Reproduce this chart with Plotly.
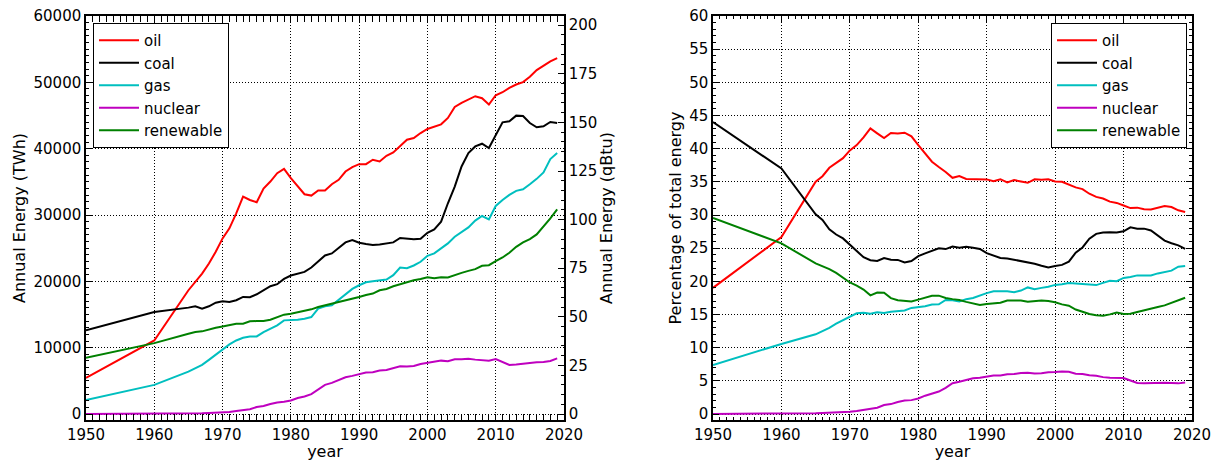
import pandas as pd
import plotly.graph_objects as go

# Primary energy consumption by source (TWh)
years = [1950, 1960] + list(range(1965, 2020))

oil = [5450, 11090, 18660, 19900, 21180, 22690, 24460, 26475, 27990, 30260,
       32780, 32270, 31920, 33990, 35050, 36310, 36960, 35550, 34290, 33130,
       32930, 33690, 33690, 34640, 35300, 36560, 37220, 37670, 37670, 38330,
       38070, 38930, 39430, 40340, 41350, 41600, 42360, 42970, 43370, 43670,
       44630, 46290, 46900, 47400, 47910, 47600, 46650, 48060, 48510, 49170,
       49670, 50030, 50830, 51840, 52550, 53150, 53660]

coal = [12610, 15380, 16040, 16240, 15890, 16240, 16790, 16990, 16890, 17150,
        17650, 17600, 18050, 18660, 19260, 19570, 20370, 20880, 21180, 21430,
        22090, 22950, 23900, 24210, 25110, 25870, 26220, 25820, 25620, 25470,
        25570, 25670, 25870, 26530, 26480, 26330, 26430, 27330, 27840, 29000,
        31770, 34290, 37320, 39330, 40340, 40750, 40090, 42110, 43970, 44130,
        44980, 44930, 43870, 43220, 43370, 44020, 43870]

gas = [2120, 4390, 6400, 6910, 7410, 8170, 8980, 9730, 10490, 11090,
       11500, 11700, 11700, 12360, 12860, 13360, 14120, 14120, 14220, 14370,
       14620, 15880, 16240, 16390, 17250, 18050, 18860, 19410, 19870, 20020,
       20170, 20270, 20930, 22090, 21990, 22390, 22950, 23850, 24210, 24960,
       25720, 26730, 27480, 28140, 29150, 29850, 29350, 31370, 32270, 33030,
       33640, 33890, 34640, 35450, 36410, 38430, 39330]

nuclear = [0, 7, 70, 90, 110, 150, 180, 220, 320, 450,
           580, 730, 1050, 1200, 1500, 1750, 1850, 2050, 2420, 2650,
           3000, 3650, 4400, 4700, 5100, 5550, 5750, 5950, 6250, 6300,
           6550, 6650, 6950, 7200, 7150, 7250, 7550, 7750, 7950, 8050,
           7950, 8250, 8250, 8350, 8200, 8150, 8050, 8300, 7900, 7400,
           7450, 7600, 7700, 7800, 7850, 8000, 8400]

renewable = [8470, 10690, 12100, 12360, 12460, 12760, 13010, 13210, 13360, 13620,
             13620, 13970, 14020, 14020, 14220, 14620, 14980, 15130, 15330, 15530,
             15780, 16140, 16390, 16590, 16840, 17150, 17300, 17650, 17950, 18160,
             18660, 18860, 19260, 19570, 19870, 20170, 20370, 20630, 20470, 20630,
             20580, 20980, 21280, 21580, 21840, 22340, 22440, 23050, 23600, 24310,
             25210, 25870, 26380, 27080, 28240, 29500, 30860]

sources = ["oil", "coal", "gas", "nuclear", "renewable"]
colors = {"oil": "#ff0000", "coal": "#000000", "gas": "#00bfbf",
          "nuclear": "#bf00bf", "renewable": "#008000"}

df = pd.DataFrame({"oil": oil, "coal": coal, "gas": gas,
                   "nuclear": nuclear, "renewable": renewable}, index=years)
share = df.div(df.sum(axis=1), axis=0) * 100

TWH_PER_QBTU = 293.07
FONT = "DejaVu Sans"

fig = go.Figure()

for s in sources:
    fig.add_trace(go.Scatter(
        x=df.index, y=df[s], mode="lines", name=s,
        line=dict(color=colors[s], width=2),
        xaxis="x", yaxis="y", legend="legend"))

# empty trace so the qBtu twin axis gets drawn
fig.add_trace(go.Scatter(x=[], y=[], xaxis="x", yaxis="y2",
                         showlegend=False, hoverinfo="skip"))

for s in sources:
    fig.add_trace(go.Scatter(
        x=share.index, y=share[s], mode="lines", name=s,
        line=dict(color=colors[s], width=2),
        xaxis="x2", yaxis="y3", legend="legend2"))

axis_common = dict(
    showline=True, linecolor="black", linewidth=1.5,
    ticks="inside", tickcolor="black", tickwidth=1,
    tickfont=dict(family=FONT, size=15, color="black"),
    zeroline=False, automargin=False, tickformat="d",
)

grid = dict(showgrid=True, gridcolor="black", gridwidth=1, griddash="1px,2px")

y0, y1 = 1 - 420 / 461, 1 - 16 / 461
left_dom = [86 / 1225, 564 / 1225]
right_dom = [713 / 1225, 1192 / 1225]

ymin_twh = -900
ymax_twh = 60000


def minor(step):
    return dict(dtick=step, ticklen=3, ticks="inside", tickcolor="black", showgrid=False)


legend_style = dict(
    bgcolor="white", bordercolor="black", borderwidth=1, itemwidth=40,
    font=dict(family=FONT, size=15, color="black"))

fig.update_layout(
    width=1225, height=461,
    margin=dict(l=0, r=0, t=0, b=0),
    paper_bgcolor="white", plot_bgcolor="white",
    font=dict(family=FONT, size=15, color="black"),
    xaxis=dict(
        domain=left_dom, anchor="y", range=[1950, 2020],
        tick0=1950, dtick=10, ticklen=6, mirror="allticks", minor=minor(1),
        title=dict(text="year", font=dict(family=FONT, size=16), standoff=3),
        **grid, **axis_common),
    yaxis=dict(
        domain=[y0, y1], anchor="x", range=[ymin_twh, ymax_twh],
        tick0=0, dtick=10000, ticklen=6, mirror=False, minor=minor(1000),
        title=dict(text="Annual Energy (TWh)", font=dict(family=FONT, size=16), standoff=4),
        **grid, **axis_common),
    yaxis2=dict(
        overlaying="y", side="right", anchor="x",
        range=[ymin_twh / TWH_PER_QBTU, ymax_twh / TWH_PER_QBTU],
        tick0=0, dtick=25, ticklen=6, showgrid=False, minor=minor(5),
        title=dict(text="Annual Energy (qBtu)", font=dict(family=FONT, size=16), standoff=4),
        **axis_common),
    xaxis2=dict(
        domain=right_dom, anchor="y3", range=[1950, 2020],
        tick0=1950, dtick=10, ticklen=6, mirror="allticks", minor=minor(1),
        title=dict(text="year", font=dict(family=FONT, size=16), standoff=3),
        **grid, **axis_common),
    yaxis3=dict(
        domain=[y0, y1], anchor="x2", range=[-0.9, 60],
        tick0=0, dtick=5, ticklen=6, mirror="allticks", minor=minor(1),
        title=dict(text="Percentage of total energy", font=dict(family=FONT, size=16), standoff=4),
        **grid, **axis_common),
    legend=dict(x=93 / 1225, y=1 - 23 / 461, xanchor="left", yanchor="top", **legend_style),
    legend2=dict(x=1187 / 1225, y=1 - 23 / 461, xanchor="right", yanchor="top", **legend_style),
)

fig.write_html("out.html")
